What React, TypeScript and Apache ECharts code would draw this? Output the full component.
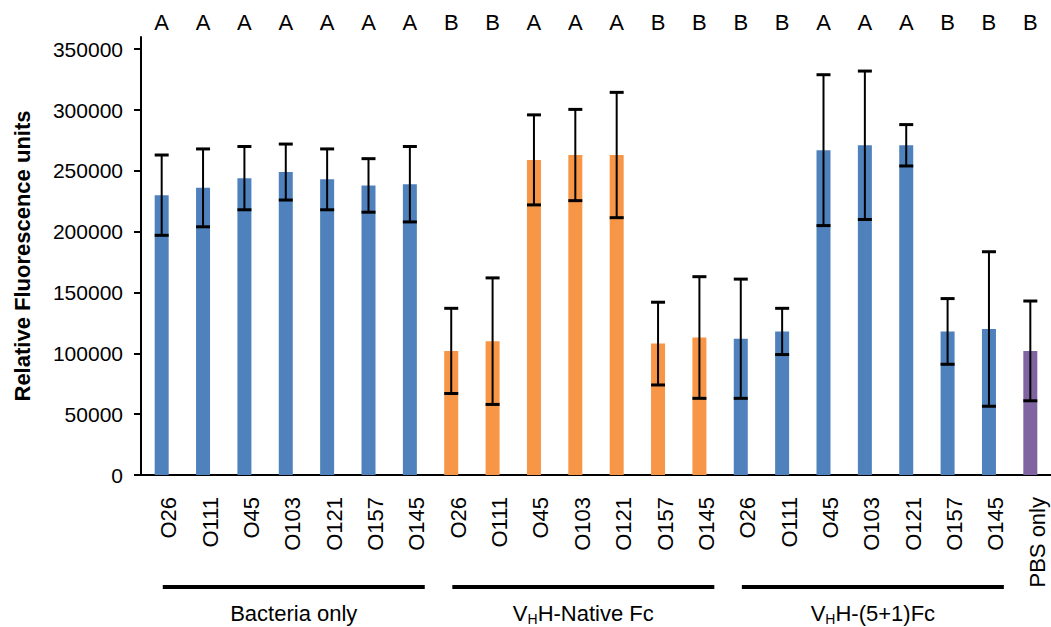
import React, { useEffect, useRef } from "react";
import * as echarts from "echarts";

const strains = ["O26", "O111", "O45", "O103", "O121", "O157", "O145"];
const categories = [...strains, ...strains, ...strains, "PBS only"];
const means = [
  230000, 236000, 244000, 249000, 243000, 238000, 239000,
  102000, 110000, 259000, 263000, 263000, 108000, 113000,
  112000, 118000, 267000, 271000, 271000, 118000, 120000,
  102000,
];
const errors = [
  33000, 32000, 26000, 23000, 25000, 22000, 31000,
  35000, 52000, 37000, 37500, 51500, 34000, 50000,
  49000, 19000, 62000, 61000, 17000, 27000, 63500,
  41000,
];
const letters = [
  "A", "A", "A", "A", "A", "A", "A",
  "B", "B", "A", "A", "A", "B", "B",
  "B", "B", "A", "A", "A", "B", "B",
  "B",
];
const groupOfBar = [
  0, 0, 0, 0, 0, 0, 0,
  1, 1, 1, 1, 1, 1, 1,
  2, 2, 2, 2, 2, 2, 2,
  3,
];
// each group label: [main, subscript, main] pieces
const groupLabels = [
  { parts: ["Bacteria only", "", ""], from: 0, to: 6 },
  { parts: ["V", "H", "H-Native Fc"], from: 7, to: 13 },
  { parts: ["V", "H", "H-(5+1)Fc"], from: 14, to: 20 },
];
const yTicks = [0, 50000, 100000, 150000, 200000, 250000, 300000, 350000];

const groupColors = ["#4F81BD", "#F79646", "#4F81BD", "#8064A2"];
const FONT = "Liberation Sans, Arial, sans-serif";
const MAIN_SIZE = 22;
const SUB_SIZE = 14;

function measure(text: string, size: number): number {
  const cv = document.createElement("canvas");
  const ctx = cv.getContext("2d")!;
  ctx.font = `${size}px ${FONT}`;
  return ctx.measureText(text).width;
}

export default function App() {
  const ref = useRef<HTMLDivElement>(null);
  useEffect(() => {
    document.body.style.margin = "0";
    const chart = echarts.init(ref.current!, null, { renderer: "svg" });
    const option: any = {
      animation: false,
      grid: { left: 141, width: 912, top: 37, bottom: 152, containLabel: false },
      xAxis: [
        {
          type: "category",
          data: categories,
          axisLine: { lineStyle: { color: "#000", width: 2 } },
          axisTick: { show: false },
          axisLabel: {
            rotate: 90,
            interval: 0,
            margin: 22,
            color: "#000",
            fontFamily: FONT,
            fontSize: 22,
            verticalAlign: "top",
            lineHeight: 14,
          },
        },
        {
          type: "category",
          position: "top",
          data: letters,
          axisLine: { show: false },
          axisTick: { show: false },
          axisLabel: {
            interval: 0,
            margin: 4,
            color: "#000",
            fontFamily: FONT,
            fontSize: 22,
          },
        },
      ],
      yAxis: {
        type: "value",
        min: 0,
        max: 360000,
        name: "Relative Fluorescence units",
        nameLocation: "middle",
        nameGap: 108,
        nameTextStyle: { color: "#000", fontFamily: FONT, fontSize: 22, fontWeight: "bold" },
        splitLine: { show: false },
        axisLine: { show: true, lineStyle: { color: "#000", width: 2 } },
        axisTick: { show: true, length: 7, lineStyle: { color: "#000", width: 2 }, customValues: yTicks },
        axisLabel: {
          color: "#000",
          fontFamily: FONT,
          fontSize: 21,
          margin: 18,
          customValues: yTicks,
          formatter: (v: number) => String(v),
        },
      },
      series: [
        {
          type: "bar",
          xAxisIndex: 0,
          barWidth: 14,
          data: means.map((v, i) => ({ value: v, itemStyle: { color: groupColors[groupOfBar[i]] } })),
        },
        {
          type: "custom",
          xAxisIndex: 0,
          data: means.map((m, i) => [i, m - errors[i], m + errors[i]]),
          encode: { x: 0, y: [1, 2] },
          z: 10,
          renderItem: (params: any, api: any) => {
            const x = api.value(0);
            const lo = api.coord([x, api.value(1)]);
            const hi = api.coord([x, api.value(2)]);
            const hw = 7;
            const st = { stroke: "#000", lineWidth: 2 };
            const cap = { stroke: "#000", lineWidth: 3 };
            return {
              type: "group",
              children: [
                { type: "line", shape: { x1: lo[0], y1: lo[1], x2: hi[0], y2: hi[1] }, style: st },
                { type: "line", shape: { x1: lo[0] - hw, y1: lo[1], x2: lo[0] + hw, y2: lo[1] }, style: cap },
                { type: "line", shape: { x1: hi[0] - hw, y1: hi[1], x2: hi[0] + hw, y2: hi[1] }, style: cap },
              ],
            };
          },
        },
      ],
    };
    chart.setOption(option);

    const graphics: any[] = [];
    const midY = 613;
    groupLabels.forEach((g) => {
      const a = chart.convertToPixel({ xAxisIndex: 0 }, g.from) as number;
      const b = chart.convertToPixel({ xAxisIndex: 0 }, g.to) as number;
      const c = (a + b) / 2 + 8;
      graphics.push({
        type: "line",
        shape: { x1: c - 131, y1: 587, x2: c + 131, y2: 587 },
        style: { stroke: "#000", lineWidth: 4 },
      });
      const [p1, p2, p3] = g.parts;
      const w1 = measure(p1, MAIN_SIZE);
      const w2 = p2 ? measure(p2, SUB_SIZE) : 0;
      const w3 = p3 ? measure(p3, MAIN_SIZE) : 0;
      let x = c - (w1 + w2 + w3) / 2;
      const pieces = [
        { t: p1, size: MAIN_SIZE, w: w1, dy: 0 },
        { t: p2, size: SUB_SIZE, w: w2, dy: 6 },
        { t: p3, size: MAIN_SIZE, w: w3, dy: 0 },
      ];
      pieces.forEach((p) => {
        if (!p.t) return;
        graphics.push({
          type: "text",
          x,
          y: midY + p.dy,
          style: {
            text: p.t,
            fill: "#000",
            fontFamily: FONT,
            fontSize: p.size,
            align: "left",
            verticalAlign: "middle",
          },
        });
        x += p.w;
      });
    });
    chart.setOption({ graphic: graphics });

    return () => chart.dispose();
  }, []);
  return <div ref={ref} style={{ position: "absolute", left: 0, top: 0, width: 1051, height: 627 }} />;
}
